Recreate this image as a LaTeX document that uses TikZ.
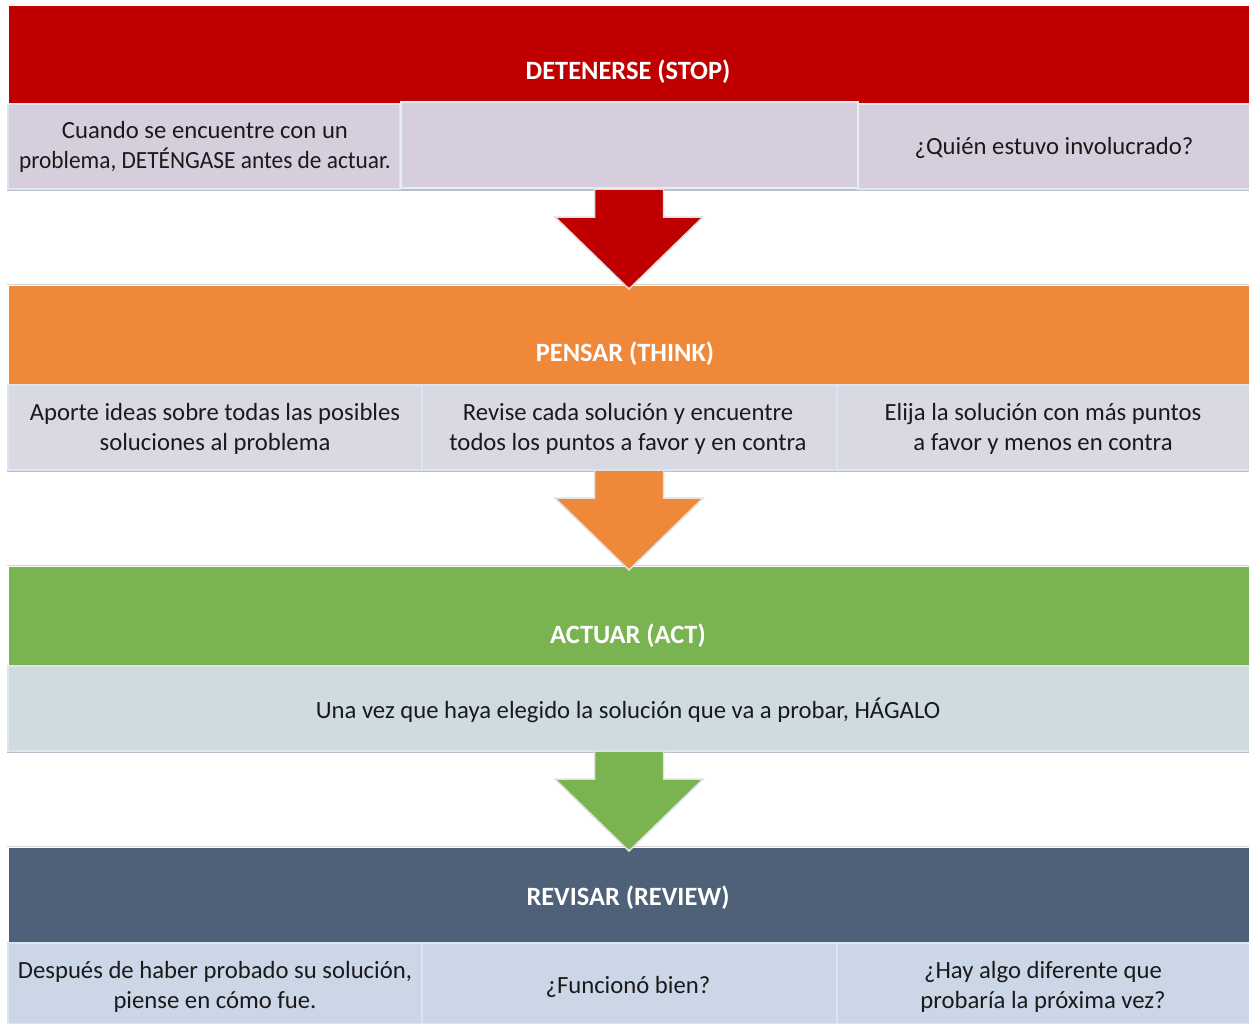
\documentclass[tikz,border=0pt]{standalone}
\usepackage{fontspec}
\usepackage{graphicx}
\setmainfont{Carlito}
\usetikzlibrary{calc}
\definecolor{cred}{HTML}{C00000}
\definecolor{corange}{HTML}{F0883A}
\definecolor{cgreen}{HTML}{7AB450}
\definecolor{cslate}{HTML}{4F6079}
\definecolor{rowa}{HTML}{D6CEDC}
\definecolor{rowb}{HTML}{D8D9E2}
\definecolor{rowc}{HTML}{CEDCE2}
\definecolor{rowd}{HTML}{CBD6E6}
\definecolor{cellline}{HTML}{DDE5F0}
\definecolor{shadow}{HTML}{B9BECC}
\definecolor{sepline}{HTML}{D4D4D4}
\definecolor{txt}{HTML}{1A1A1A}
\newcommand\blockarr[2]{%
  \draw[barrow=#1] (594.5,#2) -- (663.5,#2) -- (663.5,{#2+28}) -- (703,{#2+28})
    -- (629,{#2+100}) -- (555,{#2+28}) -- (594.5,{#2+28}) -- cycle;}
\begin{document}
\begin{tikzpicture}[x=1pt,y=-1pt,
  cell/.style={draw=cellline, line width=1.5pt, fill=#1},
  head/.style={font=\fontsize{26.4}{30}\selectfont\bfseries, text=white, inner sep=0pt},
  body/.style={font=\fontsize{24.7}{30}\selectfont, align=center, text=txt, inner sep=0pt},
  barrow/.style={fill=#1, draw=white!88!black, line width=1.5pt, line join=miter}]
\useasboundingbox (0,0) rectangle (1249,1023);
\fill[white] (0,0) rectangle (1249,1023);

% ---------- bands ----------
\fill[cred] (9,6) rectangle (1249,103);
\draw[sepline, line width=1pt] (7,284.5) -- (1249,284.5);
\fill[corange] (9,286) rectangle (1249,384);
\draw[sepline, line width=1pt] (7,565.5) -- (1249,565.5);
\fill[cgreen] (9,567) rectangle (1249,665);
\draw[sepline, line width=1pt] (7,846.5) -- (1249,846.5);
\fill[cslate] (9,848) rectangle (1249,942);

% ---------- row 1 ----------
\draw[shadow, line width=1.2pt] (7,190) -- (1249,190);
\draw[cell=rowa] (8,104) rectangle (400,189);
\draw[cell=rowa] (858,104) rectangle (1250,189);
\draw[cell=rowa, draw=cellline!70!white] (401,102) rectangle (858,188);

% ---------- row 2 ----------
\draw[shadow, line width=1.2pt] (7,471) -- (1249,471);
\draw[cell=rowb] (8,385) rectangle (422,470);
\draw[cell=rowb] (422,385) rectangle (837,470);
\draw[cell=rowb] (837,385) rectangle (1250,470);

% ---------- row 3 ----------
\draw[shadow, line width=1.2pt] (7,752) -- (1249,752);
\draw[cell=rowc] (8,666) rectangle (1250,751);

% ---------- row 4 ----------
\draw[cell=rowd] (8,943) rectangle (422,1024);
\draw[cell=rowd] (422,943) rectangle (837,1024);
\draw[cell=rowd] (837,943) rectangle (1250,1024);

% ---------- arrows ----------
\blockarr{cred}{189}
\blockarr{corange}{470}
\blockarr{cgreen}{751}

% ---------- headers ----------
\node[head] (h1) at (628,72) {DETENERSE (STOP)};
\node[head] (h2) at (625,354) {PENSAR (THINK)};
\node[head] (h3) at (628,636) {ACTUAR (ACT)};
\node[head] (h4) at (628,898) {REVISAR (REVIEW)};

% ---------- texts ----------
\node[body] (t11) at (205,147) {Cuando se encuentre con un\\\scalebox{0.945}[1]{problema, DETÉNGASE antes de actuar.}};
\node[body] (t13) at (1054,148) {¿Quién estuvo involucrado?};
\node[body] (t21) at (215,429) {Aporte ideas sobre todas las posibles\\soluciones al problema};
\node[body] (t22) at (628,429) {Revise cada solución y encuentre\\todos los puntos a favor y en contra};
\node[body] (t23) at (1043,429) {Elija la solución con más puntos\\a favor y menos en contra};
\node[body] (t31) at (628,710) {Una vez que haya elegido la solución que va a probar, HÁGALO};
\node[body] (t41) at (215,987) {Después de haber probado su solución,\\piense en cómo fue.};
\node[body] (t42) at (628,987) {¿Funcionó bien?};
\node[body] (t43) at (1043,987) {¿Hay algo diferente que\\probaría la próxima vez?};
\end{tikzpicture}
\end{document}
